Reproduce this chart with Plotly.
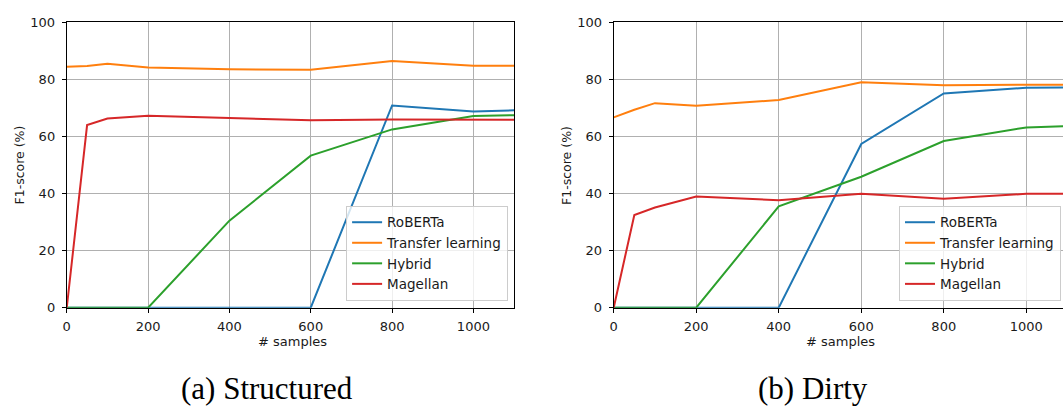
import plotly.graph_objects as go

# Number of labelled training samples
samples = [0, 50, 100, 200, 400, 600, 800, 1000, 1100]

# F1-scores (%) on the structured datasets
structured_roberta = [0, 0, 0, 0, 0, 0, 70.9, 68.8, 69.2]
structured_transfer = [84.5, 84.7, 85.5, 84.2, 83.6, 83.4, 86.5, 84.8, 84.8]
structured_hybrid = [0, 0, 0, 0, 30.5, 53.3, 62.5, 67.2, 67.5]
structured_magellan = [0, 64.0, 66.3, 67.3, 66.5, 65.7, 66.0, 65.9, 65.9]

# F1-scores (%) on the dirty datasets
dirty_roberta = [0, 0, 0, 0, 0, 57.4, 75.1, 77.1, 77.2]
dirty_transfer = [66.7, 69.4, 71.7, 70.8, 72.8, 79.0, 78.0, 78.0, 78.2]
dirty_hybrid = [0, 0, 0, 0, 35.5, 45.9, 58.4, 63.2, 63.7]
dirty_magellan = [0, 32.5, 35.1, 39.0, 37.7, 39.9, 38.2, 39.9, 39.9]

series_names = ["RoBERTa", "Transfer learning", "Hybrid", "Magellan"]
colors = ["#1f77b4", "#ff7f0e", "#2ca02c", "#d62728"]
y_ticks = [0, 20, 40, 60, 80, 100]
x_ticks = [0, 200, 400, 600, 800, 1000]
captions = ["(a) Structured", "(b) Dirty"]

W, H = 1063, 414
FONT = "DejaVu Sans"

fig = go.Figure()

panels = [
    ("x", "y", "legend", [structured_roberta, structured_transfer, structured_hybrid, structured_magellan]),
    ("x2", "y2", "legend2", [dirty_roberta, dirty_transfer, dirty_hybrid, dirty_magellan]),
]
for xa, ya, leg, values in panels:
    for name, color, ys in zip(series_names, colors, values):
        fig.add_trace(go.Scatter(
            x=samples, y=ys, mode="lines", name=name,
            line=dict(color=color, width=2),
            xaxis=xa, yaxis=ya, legend=leg,
        ))

def px_x(v):
    return v / W

def px_y(v):
    return (H - v) / H

y_dom = [px_y(312), px_y(16)]

axis_common = dict(
    showgrid=True, gridcolor="#b0b0b0", gridwidth=1,
    showline=True, linecolor="black", linewidth=1,
    ticks="outside", ticklen=4, tickwidth=1, tickcolor="black",
    zeroline=False,
    tickfont=dict(family=FONT, size=13, color="#1a1a1a"),
)

legend_common = dict(
    bgcolor="rgba(255,255,255,0.8)", bordercolor="#cccccc", borderwidth=1,
    font=dict(family=FONT, size=13.5, color="#1a1a1a"),
    xanchor="right", yanchor="bottom", orientation="v",
    tracegroupgap=0,
)

fig.update_layout(
    width=W, height=H,
    margin=dict(l=0, r=0, t=0, b=0),
    paper_bgcolor="white", plot_bgcolor="white",
    font=dict(family=FONT, size=13, color="#1a1a1a"),
    showlegend=True,
    xaxis=dict(domain=[px_x(63), px_x(512)], range=[0, 1100], tickvals=x_ticks,
               anchor="y", mirror=True, ticklabelstandoff=3, **axis_common),
    yaxis=dict(domain=y_dom, range=[0, 100], tickvals=y_ticks,
               anchor="x", mirror=True, ticklabelstandoff=4, **axis_common),
    xaxis2=dict(domain=[px_x(612), 1.0], range=[0, 1089], tickvals=x_ticks,
                anchor="y2", mirror=True, ticklabelstandoff=3, **axis_common),
    yaxis2=dict(domain=y_dom, range=[0, 100], tickvals=y_ticks,
                anchor="x2", mirror=False, ticklabelstandoff=4, **axis_common),
    legend=dict(x=px_x(506), y=px_y(305), **legend_common),
    legend2=dict(x=px_x(1061), y=px_y(305), **legend_common),
)

annotations = []
for cx in (15.5, 564):
    annotations.append(dict(
        text="F1-score (%)", x=px_x(cx), y=px_y(164), xref="paper", yref="paper",
        textangle=-90, showarrow=False, xanchor="center", yanchor="middle",
        font=dict(family=FONT, size=12.5, color="#1a1a1a"),
    ))
for cx in (290, 840):
    annotations.append(dict(
        text="# samples", x=px_x(cx), y=px_y(347), xref="paper", yref="paper",
        showarrow=False, xanchor="center", yanchor="middle",
        font=dict(family=FONT, size=13, color="#1a1a1a"),
    ))
for cx, cap in zip((264, 812), captions):
    annotations.append(dict(
        text=cap, x=px_x(cx), y=px_y(396), xref="paper", yref="paper",
        showarrow=False, xanchor="center", yanchor="middle",
        font=dict(family="Liberation Serif", size=31, color="black"),
    ))
fig.update_layout(annotations=annotations)

fig.write_html("out.html")
